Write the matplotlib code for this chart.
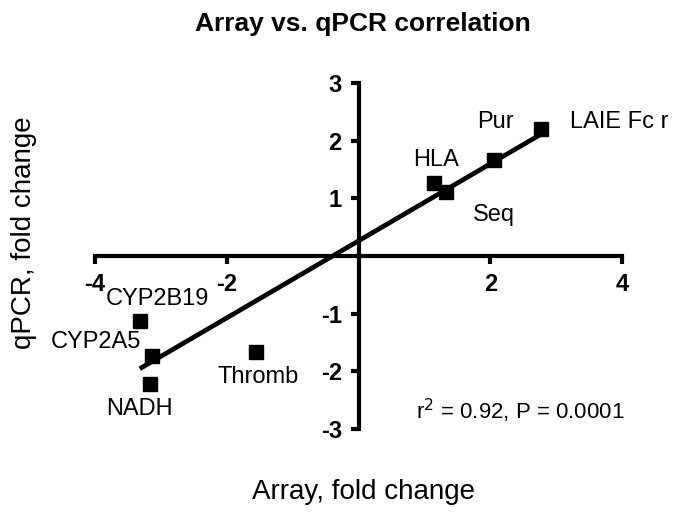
import numpy as np
import matplotlib.pyplot as plt

plt.rcParams['font.family'] = ['Liberation Sans', 'DejaVu Sans']
plt.rcParams['axes.unicode_minus'] = False

genes = ['CYP2B19', 'CYP2A5', 'NADH', 'Thromb', 'HLA', 'Seq', 'Pur', 'LAIE Fc r']
array_fc = np.array([-3.32, -3.14, -3.17, -1.55, 1.14, 1.33, 2.05, 2.77])
qpcr_fc = np.array([-1.13, -1.73, -2.22, -1.66, 1.27, 1.11, 1.66, 2.20])

# where each gene name sits (data coords) and its alignment
label_pos = {
    'CYP2B19': (-3.05, -0.75, 'center'),
    'CYP2A5': (-3.30, -1.50, 'right'),
    'NADH': (-3.33, -2.65, 'center'),
    'Thromb': (-1.53, -2.10, 'center'),
    'HLA': (1.17, 1.66, 'center'),
    'Seq': (2.05, 0.71, 'center'),
    'Pur': (2.08, 2.32, 'center'),
    'LAIE Fc r': (3.21, 2.32, 'left'),
}

fig = plt.figure(figsize=(6.85, 5.23), dpi=100)
ax = fig.add_axes([95 / 685, 1 - 429 / 523, 527 / 685, 346 / 523])

# regression line
slope, intercept = np.polyfit(array_fc, qpcr_fc, 1)
xs = np.array([array_fc.min(), array_fc.max()])
ax.plot(xs, slope * xs + intercept, color='black', lw=3.4, solid_capstyle='butt', zorder=3)
ax.plot(array_fc, qpcr_fc, 's', color='black', ms=10, zorder=4)

for g in genes:
    x, y, ha = label_pos[g]
    ax.text(x, y, g, fontsize=17, ha=ha, va='center')

ax.text(2.45, -2.69, r'r$^2$ = 0.92, P = 0.0001', fontsize=16, ha='center', va='center')

ax.set_xlim(-4, 4)
ax.set_ylim(-3, 3)
ax.spines['left'].set_position(('data', 0))
ax.spines['bottom'].set_position(('data', 0))
ax.spines['right'].set_color('none')
ax.spines['top'].set_color('none')
for s in ['left', 'bottom']:
    ax.spines[s].set_linewidth(3)
    ax.spines[s].set_capstyle('projecting')

ax.set_xticks([-4, -2, 2, 4])
ax.set_yticks([-3, -2, -1, 1, 2, 3])
ax.tick_params(direction='out', length=6, width=3, labelsize=17)
ax.tick_params(axis='x', pad=6)
ax.tick_params(axis='y', pad=6)
for lab in ax.get_xticklabels() + ax.get_yticklabels():
    lab.set_fontweight('bold')

fig.text(363 / 685, 1 - 24 / 523, 'Array vs. qPCR correlation', fontsize=19,
         fontweight='bold', ha='center', va='center')
fig.text(363 / 685, 1 - 492 / 523, 'Array, fold change', fontsize=20, ha='center', va='center')
fig.text(24 / 685, 1 - 233 / 523, 'qPCR, fold change', fontsize=20, ha='center', va='center',
         rotation=90)

fig.savefig('out.png', dpi=100)
